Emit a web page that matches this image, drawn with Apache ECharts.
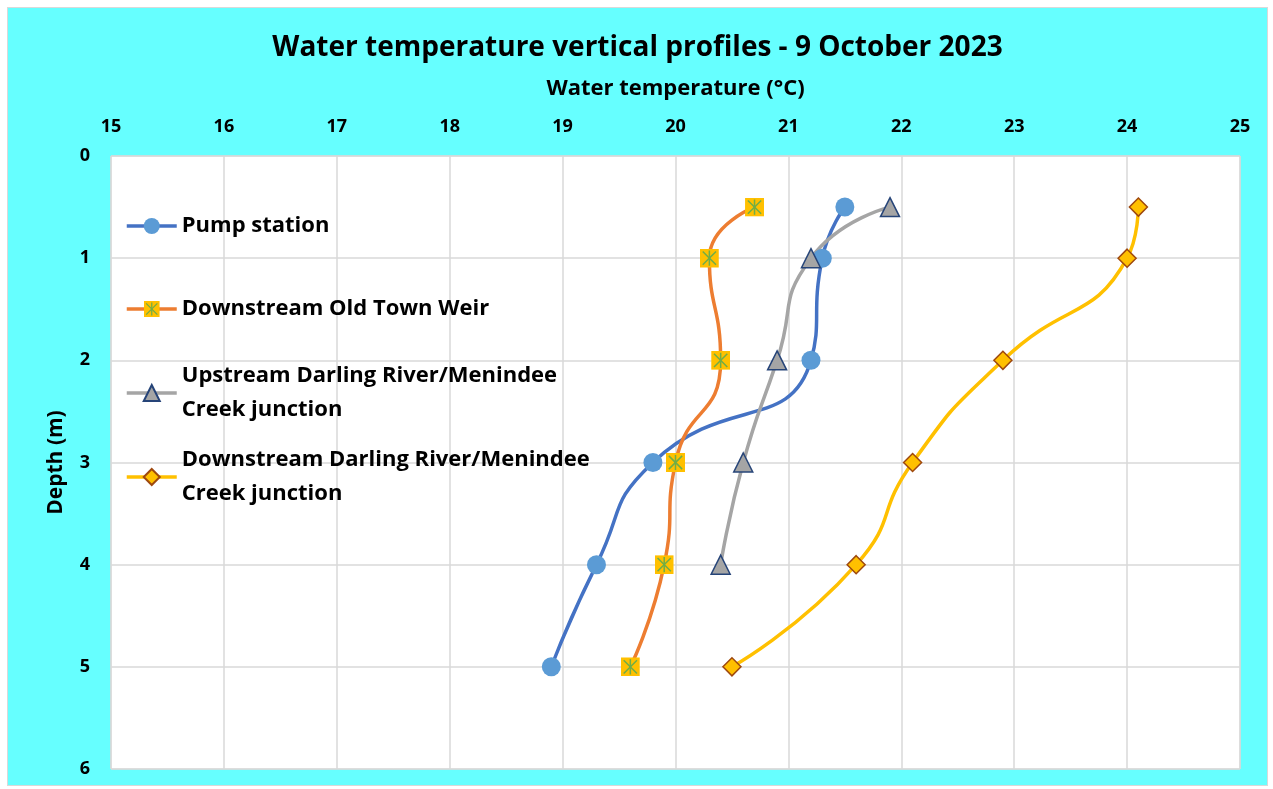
<!DOCTYPE html>
<html>
<head>
<meta charset="utf-8">
<script src="https://cdn.jsdelivr.net/npm/echarts@6/dist/echarts.min.js"></script>
<style>
  html, body { margin: 0; padding: 0; background: #fff; }
  .chart-wrap {
    position: absolute;
    left: 7px;
    top: 7px;
    width: 1259px;
    height: 777px;
    background: #66ffff;
    border: 1px solid #d9d9d9;
  }
  #chart { width: 100%; height: 100%; }
</style>
</head>
<body>
<div class="chart-wrap"><div id="chart"></div></div>
<script>
// 深度 (m)
const depths = [0.5, 1, 2, 3, 4, 5];

// 各測站水溫 (°C)
const pumpStation = [21.5, 21.3, 21.2, 19.8, 19.3, 18.9];
const oldTownWeir = [20.7, 20.3, 20.4, 20.0, 19.9, 19.6];
const upstreamJunction = [21.9, 21.2, 20.9, 20.6, 20.4];
const downstreamJunction = [24.1, 24.0, 22.9, 22.1, 21.6, 20.5];

const seriesNames = [
  "Pump station",
  "Downstream Old Town Weir",
  "Upstream Darling River/Menindee Creek junction",
  "Downstream Darling River/Menindee Creek junction",
];

// 軸刻度
const tempTicks = [15, 16, 17, 18, 19, 20, 21, 22, 23, 24, 25];
const depthTicks = [0, 1, 2, 3, 4, 5, 6];

const FONT = "'Open Sans', 'Noto Sans', sans-serif";

// 黃底綠色星號方塊 (Excel 的 star marker)
const starSvg =
  '<svg xmlns="http://www.w3.org/2000/svg" width="20" height="20" viewBox="0 0 20 20">' +
  '<rect x="0" y="0" width="20" height="20" fill="#FFC000"/>' +
  '<g stroke="#70AD47" stroke-width="1.6">' +
  '<line x1="3" y1="3" x2="17" y2="17"/><line x1="17" y1="3" x2="3" y2="17"/>' +
  '<line x1="10" y1="2" x2="10" y2="18"/></g></svg>';
const starSymbol = "image://data:image/svg+xml;charset=utf-8," + encodeURIComponent(starSvg);

const toPoints = (temps) => temps.map((t, i) => [t, depths[i]]);

const chart = echarts.init(document.getElementById("chart"));

/** 圖例：每個項目一個 legend，方便定位 */
const makeLegend = (name, top, twoLines) => ({
  data: [{ name: name }],
  orient: "vertical",
  left: 117,
  top: top,
  padding: 0,
  itemWidth: 50,
  itemHeight: 20,
  lineStyle: { width: 3.5 },
  formatter: (n) => n.replace(" Creek", "\nCreek"),
  textStyle: {
    fontFamily: FONT,
    fontSize: 22,
    fontWeight: "bold",
    color: "#000",
    lineHeight: 34,
    padding: twoLines ? [34, 0, 0, 0] : 0,
  },
});

const option = {
  backgroundColor: "transparent",
  animation: false,
  title: {
    text: "Water temperature vertical profiles - 9 October 2023",
    left: "center",
    top: 21,
    textStyle: { fontFamily: FONT, fontSize: 28, fontWeight: "bold", color: "#000" },
  },
  legend: [
    makeLegend(seriesNames[0], 201, false),
    makeLegend(seriesNames[1], 284, false),
    makeLegend(seriesNames[2], 334, true),
    makeLegend(seriesNames[3], 418, true),
  ],
  grid: {
    left: 103,
    top: 148,
    width: 1129,
    height: 613,
    show: true,
    backgroundColor: "#fff",
    borderColor: "#d9d9d9",
    borderWidth: 1,
  },
  xAxis: {
    type: "value",
    position: "top",
    min: tempTicks[0],
    max: tempTicks[tempTicks.length - 1],
    interval: 1,
    name: "Water temperature (°C)",
    nameLocation: "middle",
    nameGap: 56,
    nameTextStyle: { fontFamily: FONT, fontSize: 22, fontWeight: "bold", color: "#000" },
    axisLine: { show: false },
    axisTick: { show: false },
    axisLabel: { fontFamily: FONT, fontSize: 18, fontWeight: "bold", color: "#000", margin: 20 },
    splitLine: { lineStyle: { color: "#d9d9d9", width: 1.5 } },
  },
  yAxis: {
    type: "value",
    inverse: true,
    min: depthTicks[0],
    max: depthTicks[depthTicks.length - 1],
    interval: 1,
    name: "Depth (m)",
    nameLocation: "middle",
    nameGap: 44,
    nameTextStyle: { fontFamily: FONT, fontSize: 21, fontWeight: "bold", color: "#000" },
    axisLine: { show: false },
    axisTick: { show: false },
    axisLabel: { fontFamily: FONT, fontSize: 18, fontWeight: "bold", color: "#000", margin: 21 },
    splitLine: { lineStyle: { color: "#d9d9d9", width: 1.5 } },
  },
  series: [
    {
      name: seriesNames[0],
      type: "line",
      smooth: 0.55,
      data: toPoints(pumpStation),
      symbol: "circle",
      symbolSize: 19,
      lineStyle: { color: "#4472C4", width: 3.5 },
      itemStyle: { color: "#5B9BD5", borderWidth: 0 },
    },
    {
      name: seriesNames[1],
      type: "line",
      smooth: 0.55,
      data: toPoints(oldTownWeir),
      symbol: starSymbol,
      symbolSize: 19,
      lineStyle: { color: "#ED7D31", width: 3.5 },
      itemStyle: { color: "#FFC000" },
    },
    {
      name: seriesNames[2],
      type: "line",
      smooth: 0.55,
      data: toPoints(upstreamJunction),
      symbol: "triangle",
      symbolSize: 19,
      lineStyle: { color: "#A5A5A5", width: 3.5 },
      itemStyle: { color: "#A5A5A5", borderColor: "#264478", borderWidth: 1.5 },
    },
    {
      name: seriesNames[3],
      type: "line",
      smooth: 0.55,
      data: toPoints(downstreamJunction),
      symbol: "diamond",
      symbolSize: 18,
      lineStyle: { color: "#FFC000", width: 3.5 },
      itemStyle: { color: "#FFC000", borderColor: "#9E480E", borderWidth: 1.5 },
    },
  ],
};

chart.setOption(option);
</script>
</body>
</html>
